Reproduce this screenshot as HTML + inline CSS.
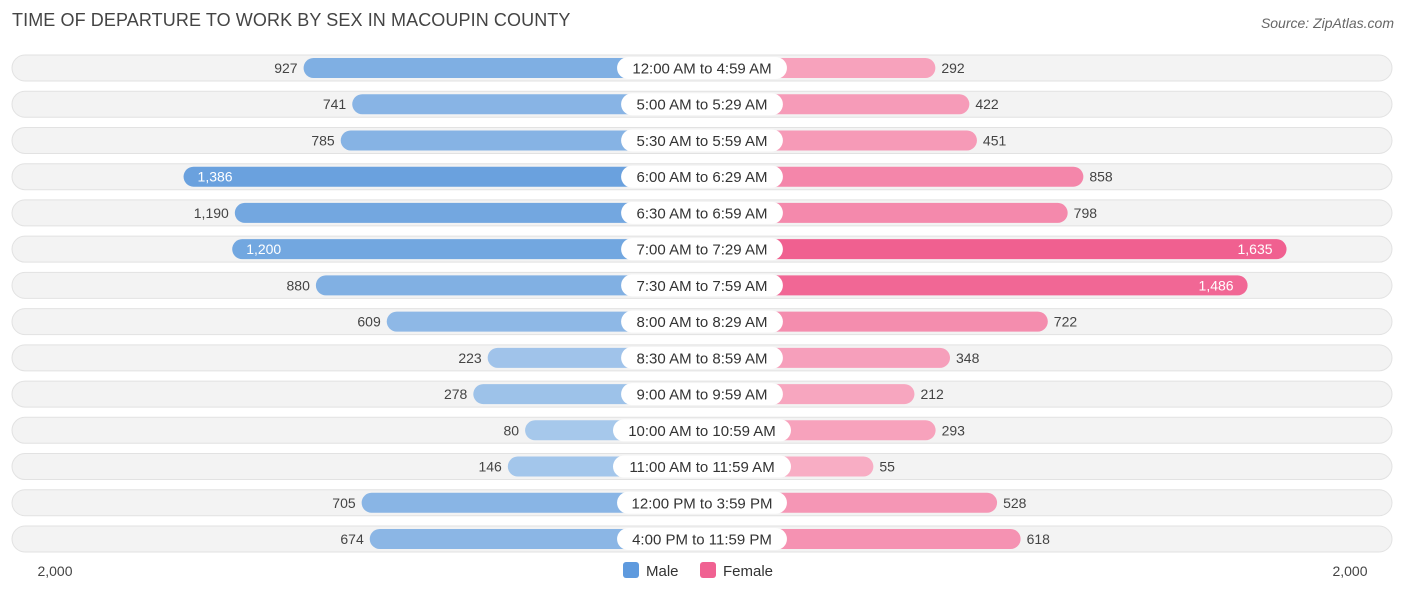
<!DOCTYPE html>
<html><head><meta charset="utf-8">
<style>
body{margin:0;background:#fff;font-family:"Liberation Sans",sans-serif;}
#wrap{position:relative;width:1406px;height:595px;overflow:hidden;}
.title{position:absolute;left:12px;top:10px;font-size:18px;color:#444;letter-spacing:0.1px;}
.source{position:absolute;right:12px;top:15px;font-size:14px;color:#666;font-style:italic;}
</style></head>
<body>
<div id="wrap">
<div class="title">TIME OF DEPARTURE TO WORK BY SEX IN MACOUPIN COUNTY</div>
<div class="source">Source: ZipAtlas.com</div>
<svg id="svg" width="1406" height="595" style="position:absolute;left:0;top:0"></svg>
</div>
<script>
const categories=["12:00 AM to 4:59 AM","5:00 AM to 5:29 AM","5:30 AM to 5:59 AM","6:00 AM to 6:29 AM","6:30 AM to 6:59 AM","7:00 AM to 7:29 AM","7:30 AM to 7:59 AM","8:00 AM to 8:29 AM","8:30 AM to 8:59 AM","9:00 AM to 9:59 AM","10:00 AM to 10:59 AM","11:00 AM to 11:59 AM","12:00 PM to 3:59 PM","4:00 PM to 11:59 PM"];
const maleValues=[927,741,785,1386,1190,1200,880,609,223,278,80,146,705,674];
const femaleValues=[292,422,451,858,798,1635,1486,722,348,212,293,55,528,618];
const axisMax=2000;
const axisTickLabels=["2,000","2,000"];
const legendLabels=["Male","Female"];

const NS="http://www.w3.org/2000/svg";
const svg=document.getElementById('svg');
const maleBase=546, femaleBase=859, scale=523/axisMax;
const rowY0=68, rowStep=36.23;
function xMale(v){return maleBase-v*scale;}
function xFemale(v){return femaleBase+v*scale;}
function yRow(i){return rowY0+i*rowStep;}
function mk(tag,attrs){const e=document.createElementNS(NS,tag);for(const k in attrs)e.setAttribute(k,attrs[k]);svg.appendChild(e);return e;}
function mix(a,b,t){return 'rgb('+a.map((c,i)=>Math.round(c+(b[i]-c)*t)).join(',')+')';}
const fmt=v=>v.toLocaleString('en-US');
const maxV=Math.max(...maleValues,...femaleValues);

categories.forEach((c,i)=>{
  const y=yRow(i);
  const bg=mk('rect',{x:12,y:y-13,width:1380,height:26,rx:13,fill:'#f3f3f3',stroke:'#e2e2e2','stroke-width':1});
  
  
  const mv=maleValues[i], fv=femaleValues[i];
  const mx=xMale(mv);
  const mb=mk('rect',{x:mx,y:y-10,width:702-mx,height:20,rx:10,fill:mix([170,202,236],[94,154,220],mv/maxV)});
  
  
  const fx=xFemale(fv);
  const fb=mk('rect',{x:702,y:y-10,width:fx-702,height:20,rx:10,fill:mix([248,176,198],[240,96,144],fv/maxV)});
  
  
  const mIn=mv>=1195, fIn=fv>=1195;
  const mt=mk('text',{x:mIn?mx+14:mx-6,y:y+5,'font-size':14,'text-anchor':mIn?'start':'end',fill:mIn?'#fff':'#444'});
  mt.textContent=fmt(mv);
  
  
  const ft=mk('text',{x:fIn?fx-14:fx+6,y:y+5,'font-size':14,'text-anchor':fIn?'end':'start',fill:fIn?'#fff':'#444'});
  ft.textContent=fmt(fv);
  
  
  const w=c.length*8.1+16;
  const pill=mk('rect',{x:702-w/2,y:y-11,width:w,height:22,rx:11,fill:'#fff'});
  
  
  const lt=mk('text',{x:702,y:y+5.5,'font-size':15,'text-anchor':'middle',fill:'#333'});
  lt.textContent=c;
  
  
});
const a1=mk('text',{x:xMale(axisMax)+32,y:576,'font-size':14,'text-anchor':'middle',fill:'#444'});
a1.textContent=axisTickLabels[0];


const a2=mk('text',{x:xFemale(axisMax)-32,y:576,'font-size':14,'text-anchor':'middle',fill:'#444'});
a2.textContent=axisTickLabels[1];


const legColors=['#5e9ade','#f06292'], legX=[623,700];
legendLabels.forEach((l,i)=>{
  const r=mk('rect',{x:legX[i],y:562,width:16,height:16,rx:3,fill:legColors[i]});
  
  
  const t=mk('text',{x:legX[i]+23,y:576,'font-size':15,fill:'#333'});
  t.textContent=l;
  
  
});
</script>
</body></html>
